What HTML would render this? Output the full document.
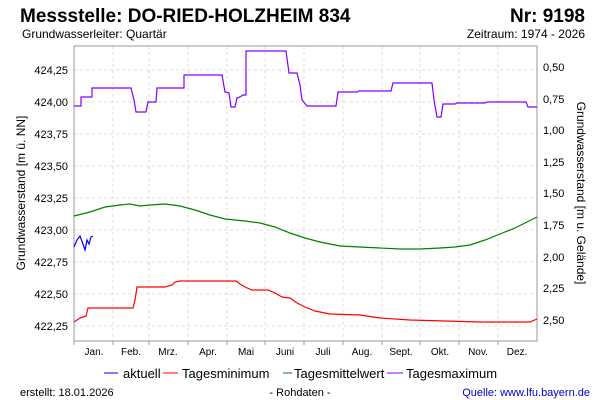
<!DOCTYPE html>
<html><head><meta charset="utf-8"><style>
body{margin:0;background:#fff;}
svg{display:block;font-family:"Liberation Sans",sans-serif;}
</style></head><body>
<svg width="600" height="400" xmlns="http://www.w3.org/2000/svg">
<rect width="600" height="400" fill="#fff"/>
<text x="20" y="22" font-size="19" font-weight="bold">Messstelle: DO-RIED-HOLZHEIM 834</text>
<text x="585" y="22" font-size="19" font-weight="bold" text-anchor="end">Nr: 9198</text>
<text x="22" y="38" font-size="12">Grundwasserleiter: Quartär</text>
<text x="585" y="38" font-size="12" text-anchor="end">Zeitraum: 1974 - 2026</text>
<g stroke="#ddd" stroke-dasharray="3,3" stroke-width="1">
<line x1="113" y1="46" x2="113" y2="341"/><line x1="149" y1="46" x2="149" y2="341"/><line x1="188" y1="46" x2="188" y2="341"/><line x1="227" y1="46" x2="227" y2="341"/><line x1="265" y1="46" x2="265" y2="341"/><line x1="304" y1="46" x2="304" y2="341"/><line x1="343" y1="46" x2="343" y2="341"/><line x1="382" y1="46" x2="382" y2="341"/><line x1="420" y1="46" x2="420" y2="341"/><line x1="459" y1="46" x2="459" y2="341"/><line x1="498" y1="46" x2="498" y2="341"/>
<line x1="74" y1="70" x2="537" y2="70"/><line x1="74" y1="102" x2="537" y2="102"/><line x1="74" y1="134" x2="537" y2="134"/><line x1="74" y1="166" x2="537" y2="166"/><line x1="74" y1="198" x2="537" y2="198"/><line x1="74" y1="230" x2="537" y2="230"/><line x1="74" y1="262" x2="537" y2="262"/><line x1="74" y1="294" x2="537" y2="294"/><line x1="74" y1="326" x2="537" y2="326"/>
</g>
<rect x="74" y="46" width="463" height="295" fill="none" stroke="#999"/>
<g font-size="11" text-anchor="end">
<text x="68" y="74">424,25</text><text x="68" y="106">424,00</text><text x="68" y="138">423,75</text><text x="68" y="170">423,50</text><text x="68" y="202">423,25</text><text x="68" y="234">423,00</text><text x="68" y="266">422,75</text><text x="68" y="298">422,50</text><text x="68" y="330">422,25</text>
</g>
<g font-size="11">
<text x="543" y="71">0,50</text><text x="543" y="103">0,75</text><text x="543" y="134">1,00</text><text x="543" y="166">1,25</text><text x="543" y="197">1,50</text><text x="543" y="229">1,75</text><text x="543" y="261">2,00</text><text x="543" y="292">2,25</text><text x="543" y="324">2,50</text>
</g>
<g stroke="#999"><line x1="74" y1="341" x2="74" y2="345"/><line x1="113" y1="341" x2="113" y2="345"/><line x1="149" y1="341" x2="149" y2="345"/><line x1="188" y1="341" x2="188" y2="345"/><line x1="227" y1="341" x2="227" y2="345"/><line x1="265" y1="341" x2="265" y2="345"/><line x1="304" y1="341" x2="304" y2="345"/><line x1="343" y1="341" x2="343" y2="345"/><line x1="382" y1="341" x2="382" y2="345"/><line x1="420" y1="341" x2="420" y2="345"/><line x1="459" y1="341" x2="459" y2="345"/><line x1="498" y1="341" x2="498" y2="345"/></g>
<g font-size="10" text-anchor="middle">
<text x="94" y="355">Jan.</text><text x="131" y="355">Feb.</text><text x="168" y="355">Mrz.</text><text x="208" y="355">Apr.</text><text x="246" y="355">Mai</text><text x="285" y="355">Juni</text><text x="323" y="355">Juli</text><text x="362" y="355">Aug.</text><text x="401" y="355">Sept.</text><text x="440" y="355">Okt.</text><text x="478" y="355">Nov.</text><text x="517" y="355">Dez.</text>
</g>
<text transform="translate(25,193) rotate(-90)" font-size="12" text-anchor="middle">Grundwasserstand [m ü. NN]</text>
<text transform="translate(577,193) rotate(90)" font-size="12" text-anchor="middle">Grundwasserstand [m u. Gelände]</text>
<polyline fill="none" stroke="#8000ff" stroke-width="1.2" points="74,106 81,106 81,97 92,97 92,88 131,88 134,100 136,112 146,112 148,102 156,102 157,88 184,88 184,75 222,75 225,92 229,93 231,107 235,107 237,98 240,97 243,95 246,95 246,51 286,51 289,73 297,73 300,85 302,100 307,106 336,106 338,92 357,92 359,91 391,91 393,83 432,83 434,100 437,117 441,117 443,104 455,104 457,103 485,103 487,102 526,102 528,107 537,107"/>
<polyline fill="none" stroke="#008000" stroke-width="1.2" points="74,216 90,212 105,207 120,205 130,204 140,206 150,205 165,204 180,206 195,210 210,215 225,219 245,221 260,223 275,227 290,233 305,238 320,242 340,246 360,247 380,248 400,249 420,249 440,248 455,247 470,245 485,240 500,234 515,228 527,222 537,217"/>
<polyline fill="none" stroke="#ff0000" stroke-width="1.2" points="74,322 80,318 86,316 88,308 95,308 133,308 135,300 137,287 165,287 172,285 175,282 180,281 236,281 240,284 245,287 252,290 268,290 275,293 282,297 290,298 297,303 305,307 315,311 330,314 360,315 380,318 410,320 480,322 530,322 537,319"/>
<polyline fill="none" stroke="#0000ff" stroke-width="1.2" points="74,247 77,240 80,236 83,244 85,250 87,240 89,244 91,237 93,236"/>
<g font-size="13">
<line x1="104" y1="373" x2="118" y2="373" stroke="#0000ff"/><text x="123" y="378">aktuell</text>
<line x1="163" y1="373" x2="178" y2="373" stroke="#ff0000"/><text x="182" y="378">Tagesminimum</text>
<line x1="283" y1="373" x2="292" y2="373" stroke="#008000"/><text x="294" y="378">Tagesmittelwert</text>
<line x1="387" y1="373" x2="403" y2="373" stroke="#8000ff"/><text x="406" y="378">Tagesmaximum</text>
</g>
<g font-size="11">
<text x="20" y="396">erstellt:  18.01.2026</text>
<text x="300" y="396" text-anchor="middle">- Rohdaten -</text>
<text x="590" y="396" text-anchor="end" fill="#0000cc">Quelle: www.lfu.bayern.de</text>
</g>
</svg>
</body></html>
